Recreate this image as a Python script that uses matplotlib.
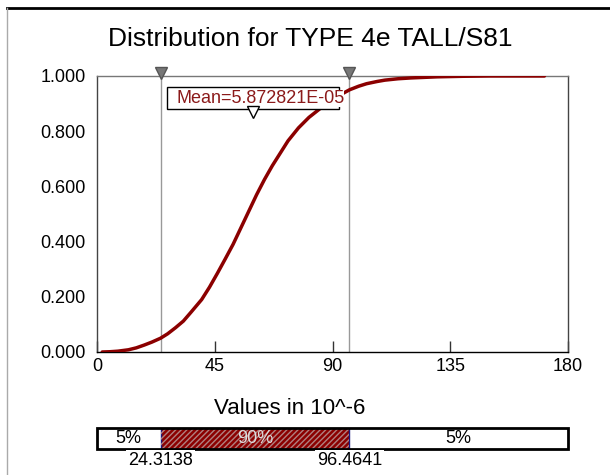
import matplotlib.pyplot as plt
from matplotlib.patches import Rectangle
from matplotlib.lines import Line2D

plt.rcParams['font.family'] = ['Liberation Sans', 'DejaVu Sans']

# cumulative curve (values in 10^-6)
cdf_x = [2, 5, 8, 12, 15, 18, 21, 24.3, 27, 30, 33, 36, 40, 43, 46, 49, 52, 55, 58.5,
         61, 64, 67, 70, 73, 77, 81, 85, 88, 91, 94, 96.5, 100, 103, 107, 110, 115,
         120, 125, 130, 140, 150, 160, 171]
cdf_y = [0, 0.001, 0.003, 0.008, 0.015, 0.025, 0.036, 0.05, 0.066, 0.088, 0.112, 0.145,
         0.19, 0.235, 0.285, 0.337, 0.39, 0.45, 0.52, 0.57, 0.625, 0.675, 0.72, 0.765,
         0.812, 0.85, 0.88, 0.902, 0.92, 0.937, 0.95, 0.963, 0.972, 0.98, 0.985, 0.99,
         0.993, 0.995, 0.997, 0.999, 1.0, 1.0, 1.0]

p5 = 24.3138
p95 = 96.4641
mean_label = 'Mean=5.872821E-05'
x_ticks = [0, 45, 90, 135, 180]
y_ticks = [0, 0.2, 0.4, 0.6, 0.8, 1.0]
band_labels = ['5%', '90%', '5%']

red = '#8b0000'

fig = plt.figure(figsize=(6.1, 4.75), dpi=100)

# outer frame (top and left only)
fig.add_artist(Line2D([7/610, 1], [1 - 8/475, 1 - 8/475], color='black', lw=2))
fig.add_artist(Line2D([7/610, 7/610], [0, 1 - 8/475], color='#aaaaaa', lw=1))

ax = fig.add_axes([97/610, 123/475, 471/610, 276/475])
ax.plot(cdf_x, cdf_y, color=red, lw=2.5, zorder=3, solid_capstyle='round',
        solid_joinstyle='round')
for v in (p5, p95):
    ax.axvline(v, color='#999999', lw=1, zorder=1)
ax.plot([p5, p95], [1.011, 1.011], 'v', color='#777777', mec='#555555',
        ms=9, clip_on=False, zorder=6)

ax.set_xlim(0, 180)
ax.set_ylim(0, 1)
ax.set_xticks(x_ticks)
ax.set_yticks(y_ticks)
ax.set_yticklabels([f'{t:.3f}' for t in y_ticks])
ax.tick_params(axis='x', direction='in', length=8, width=1, color='#333333',
               labelsize=13, pad=4)
ax.tick_params(axis='y', length=0, labelsize=13, pad=8)
for side in ('left', 'right'):
    ax.spines[side].set_color('#444444')
ax.spines['top'].set_color('#777777')
ax.spines['bottom'].set_color('black')
for s in ax.spines.values():
    s.set_linewidth(1)

# mean label box
bx, by, bw, bh = 0.1486, 0.880, 0.365, 0.080
ax.add_patch(Rectangle((bx, by), bw, bh, transform=ax.transAxes, facecolor='white',
                       edgecolor='black', lw=1, zorder=5))
ax.text(0.168, by + bh / 2, mean_label, transform=ax.transAxes, color='#8b1a1a',
        fontsize=13, ha='left', va='center', zorder=6,
        bbox=dict(facecolor='white', edgecolor='none', pad=0))
ax.plot([bx + bw / 2], [0.868], 'v', transform=ax.transAxes, mfc='white', mec='black',
        ms=9, mew=1, clip_on=False, zorder=7)

fig.text(310/610, 1 - 39/475, 'Distribution for TYPE 4e TALL/S81', fontsize=19,
         ha='center', va='center')
fig.text(290/610, 1 - 409/475, 'Values in 10^-6', fontsize=16, ha='center', va='center')

# percentile band
bar = fig.add_axes([97/610, 26/475, 471/610, 21/475])
bar.set_xlim(0, 180)
bar.set_ylim(0, 1)
bar.axis('off')
bar.add_patch(Rectangle((0, 0), 180, 1, facecolor='white', edgecolor='none'))
bar.add_patch(Rectangle((p5, 0), p95 - p5, 1, facecolor=red, edgecolor='#1a1a80', lw=1))
bar.add_patch(Rectangle((p5, 0), p95 - p5, 1, facecolor='none', edgecolor='#b08080',
                        hatch='//////', lw=0))
bar.add_patch(Rectangle((0, 0), 180, 1, facecolor='none', edgecolor='black', lw=2,
                        clip_on=False, zorder=4))
mids = [p5 / 2, (p5 + p95) / 2, (p95 + 180) / 2]
colors = ['black', '#dddddd', 'black']
for m, lab, c in zip(mids, band_labels, colors):
    bar.text(m, 0.5, lab, ha='center', va='center', fontsize=13, color=c, zorder=5)
for v in (p5, p95):
    bar.text(v, -0.55, f'{v:.4f}', ha='center', va='center', fontsize=13, zorder=6,
             bbox=dict(facecolor='white', edgecolor='none', pad=1.5))

fig.savefig('out.png', dpi=100)
